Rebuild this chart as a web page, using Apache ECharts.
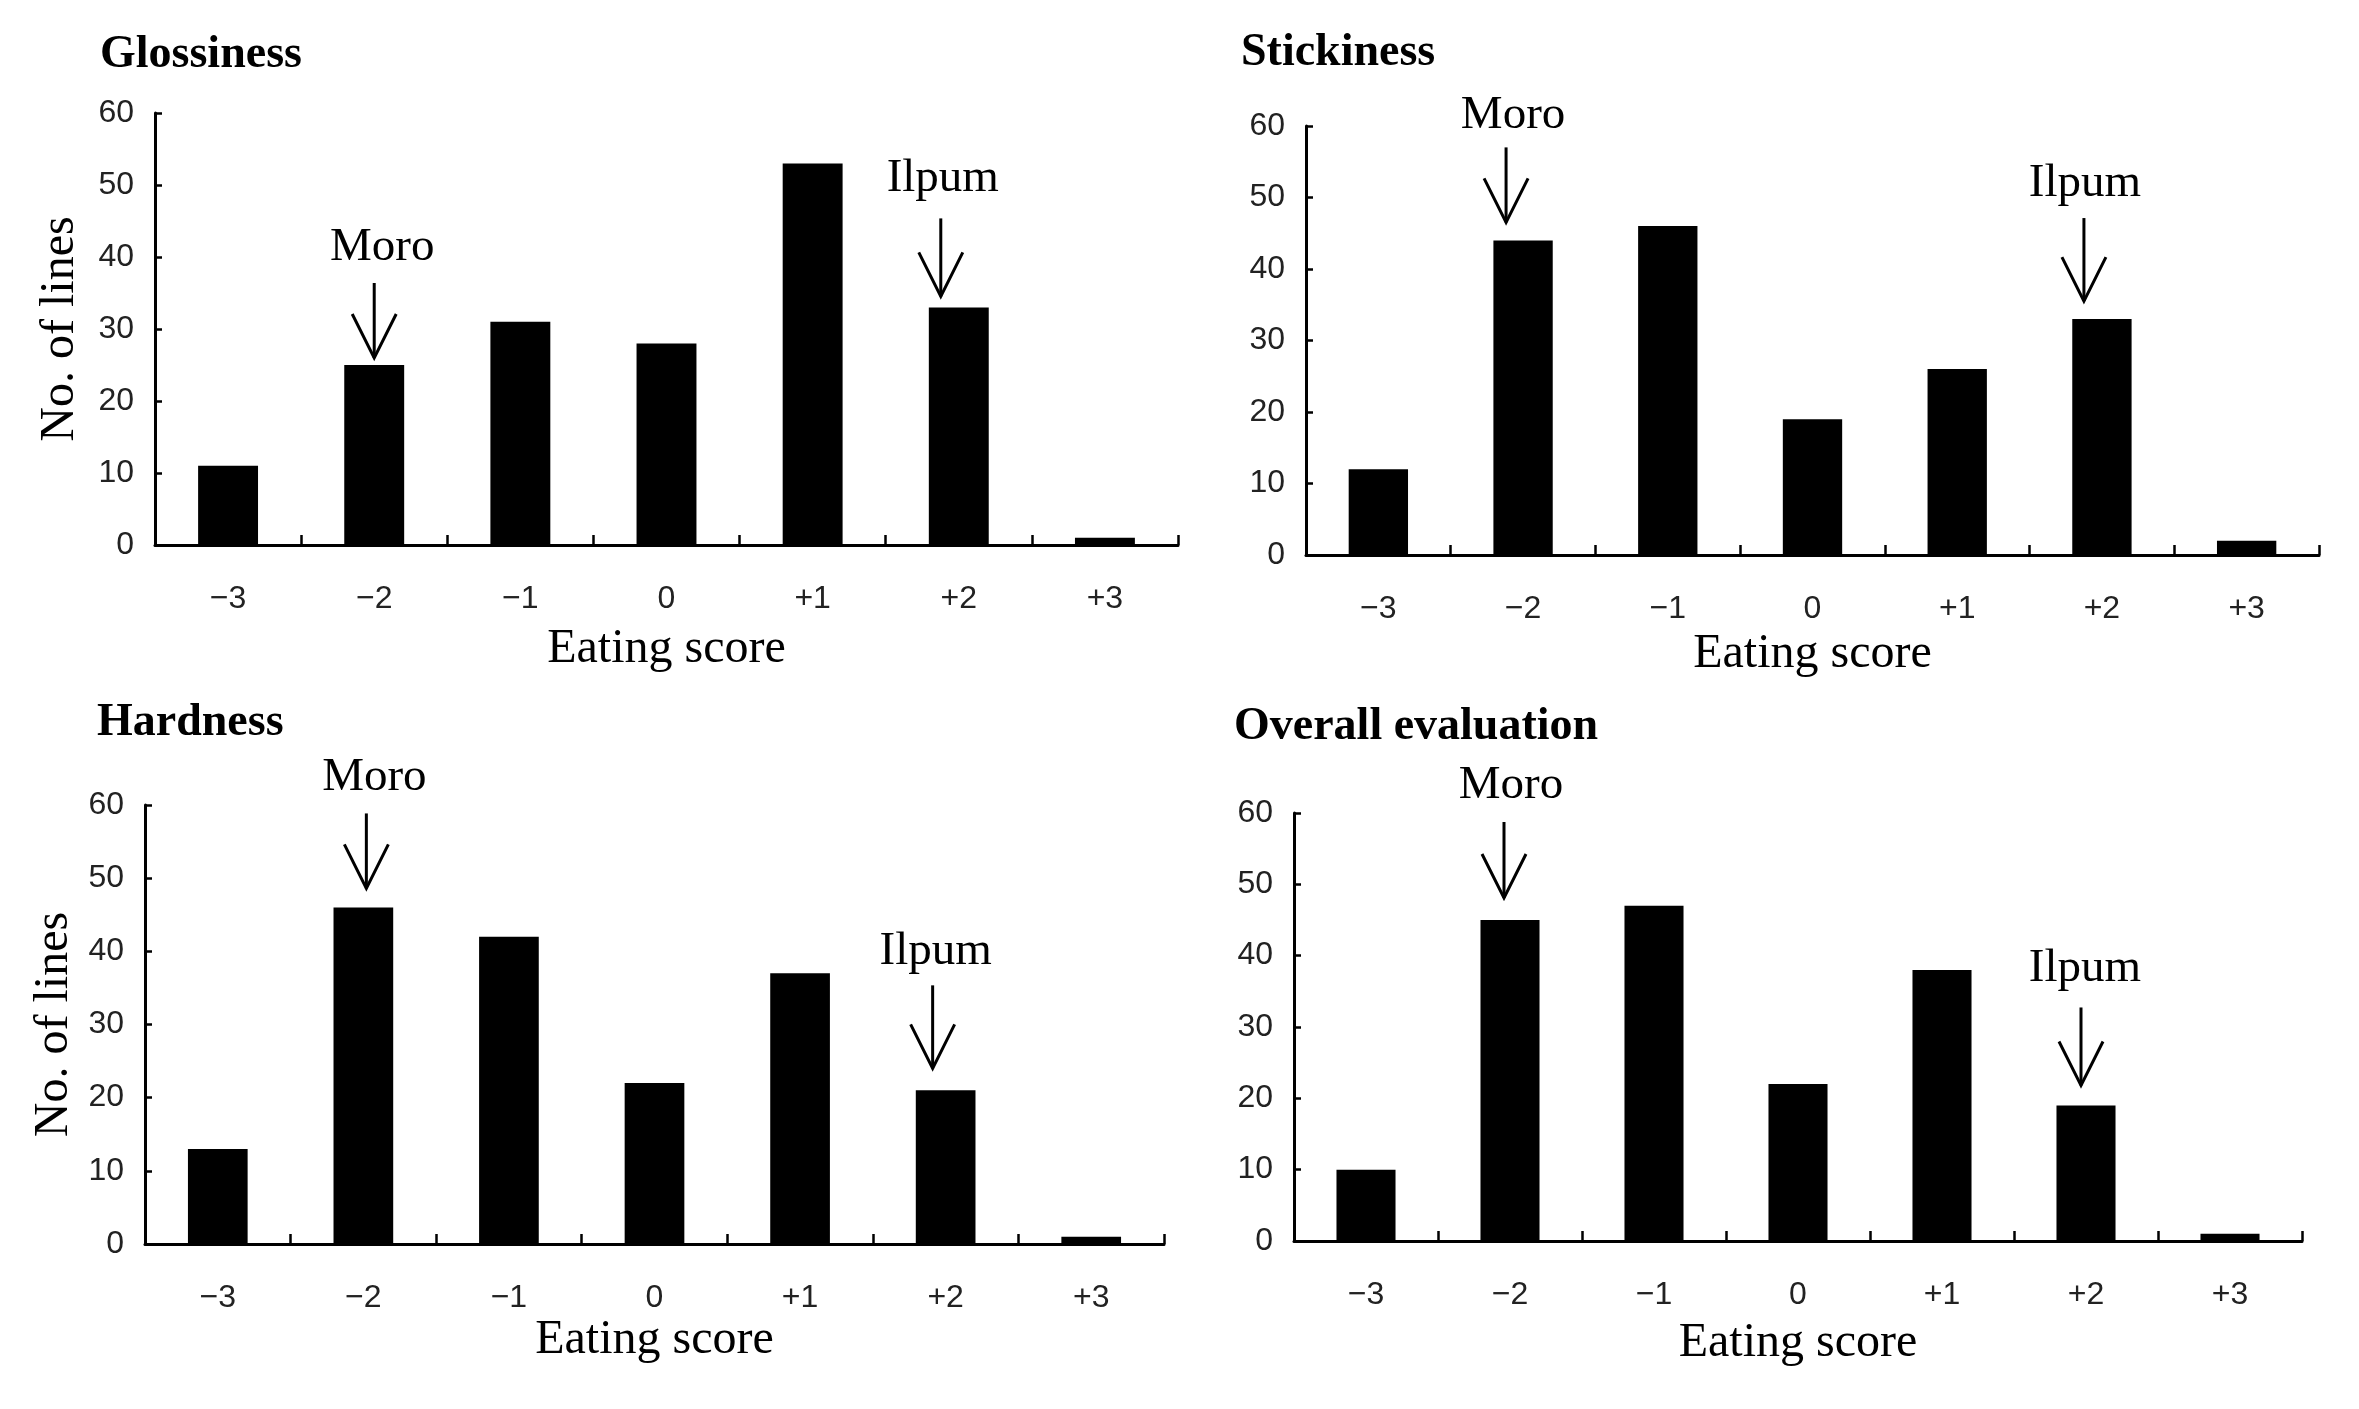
<!DOCTYPE html>
<html>
<head>
<meta charset="utf-8">
<title>Eating score distributions</title>
<script src="https://cdn.jsdelivr.net/npm/echarts/dist/echarts.min.js"></script>
<style>
  html, body { margin: 0; padding: 0; background: #fff; }
  #chart { width: 2359px; height: 1409px; }
</style>
</head>
<body>
<div id="chart"></div>
<script>
// eating score classes on the x axis
var scores = ['\u22123', '\u22122', '\u22121', '0', '+1', '+2', '+3'];

// number of lines per score
var glossiness = [11, 25, 31, 28, 53, 33, 1];
var stickiness = [12, 44, 46, 19, 26, 33, 2];
var hardness = [13, 46, 42, 22, 37, 21, 1];
var overall = [10, 45, 47, 22, 38, 19, 1];

// y axis ticks
var yMin = 0, yMax = 60, yStep = 10;

// check cultivars and the score they sit on
var cultivars = ['Moro', 'Ilpum'];
var cultivarScores = ['\u22122', '+2'];

var serif = '"Liberation Serif", "Times New Roman", serif';
var sans = '"Liberation Sans", Arial, sans-serif';

// layout of the four panels (pixels)
var panels = [
  {
    title: 'Glossiness', data: glossiness, yName: 'No. of lines',
    grid: { left: 155, top: 113, width: 1023, height: 432 },
    titlePos: [100, 33], nameGap: 80, yNameGap: 71,
    arrows: [
      { dx: 0, gap: 7, len: 75, tdx: 8, tgap: 35 },
      { dx: -18, gap: 11, len: 78, tdx: 2, tgap: 40 }
    ]
  },
  {
    title: 'Stickiness', data: stickiness, yName: '',
    grid: { left: 1306, top: 126, width: 1013, height: 429 },
    titlePos: [1241, 31], nameGap: 75, yNameGap: 70,
    arrows: [
      { dx: -17, gap: 18, len: 75, tdx: 7, tgap: 32 },
      { dx: -18, gap: 18, len: 83, tdx: 1, tgap: 34 }
    ]
  },
  {
    title: 'Hardness', data: hardness, yName: 'No. of lines',
    grid: { left: 145, top: 805, width: 1019, height: 439 },
    titlePos: [97, 701], nameGap: 72, yNameGap: 67,
    arrows: [
      { dx: 3, gap: 19, len: 75, tdx: 8, tgap: 36 },
      { dx: -13, gap: 22, len: 83, tdx: 3, tgap: 34 }
    ]
  },
  {
    title: 'Overall evaluation', data: overall, yName: '',
    grid: { left: 1294, top: 813, width: 1008, height: 428 },
    titlePos: [1234, 705], nameGap: 78, yNameGap: 70,
    arrows: [
      { dx: -6, gap: 22, len: 76, tdx: 7, tgap: 36 },
      { dx: -5, gap: 20, len: 78, tdx: 4, tgap: 39 }
    ]
  }
];

var chart = echarts.init(document.getElementById('chart'), null, { renderer: 'canvas' });

var titles = [], grids = [], xAxes = [], yAxes = [], series = [];

panels.forEach(function (p, i) {
  titles.push({
    text: p.title,
    left: p.titlePos[0],
    top: p.titlePos[1],
    padding: 0,
    textStyle: { fontFamily: serif, fontWeight: 'bold', fontSize: 46, color: '#000', lineHeight: 44 }
  });

  grids.push(p.grid);

  xAxes.push({
    type: 'category',
    gridIndex: i,
    data: scores,
    name: 'Eating score',
    nameLocation: 'middle',
    nameGap: p.nameGap,
    nameTextStyle: { fontFamily: serif, fontSize: 48, color: '#000' },
    axisLine: { show: true, lineStyle: { color: '#000', width: 3 } },
    axisTick: { show: true, inside: true, length: 10, lineStyle: { color: '#000', width: 2.5 } },
    axisLabel: { margin: 38, fontFamily: sans, fontSize: 32, color: '#222' },
    splitLine: { show: false }
  });

  yAxes.push({
    type: 'value',
    gridIndex: i,
    min: yMin,
    max: yMax,
    interval: yStep,
    name: p.yName,
    nameLocation: 'middle',
    nameRotate: 90,
    nameGap: p.yNameGap,
    nameTextStyle: { fontFamily: serif, fontSize: 48, color: '#000' },
    axisLine: { show: true, lineStyle: { color: '#000', width: 3 } },
    axisTick: { show: true, inside: true, length: 7, lineStyle: { color: '#000', width: 2.5 } },
    axisLabel: { margin: 21, fontFamily: sans, fontSize: 32, color: '#222' },
    splitLine: { show: false }
  });

  series.push({
    type: 'bar',
    xAxisIndex: i,
    yAxisIndex: i,
    data: p.data,
    barWidth: '41%',
    itemStyle: { color: '#000' },
    silent: true
  });

  // arrows pointing at the check cultivars
  var marks = cultivars.map(function (name, k) {
    var idx = scores.indexOf(cultivarScores[k]);
    return [idx, p.data[idx]];
  });

  series.push({
    type: 'custom',
    xAxisIndex: i,
    yAxisIndex: i,
    data: marks,
    clip: false,
    silent: true,
    z: 10,
    renderItem: function (params, api) {
      var pt = api.coord([api.value(0), api.value(1)]);
      var s = p.arrows[params.dataIndex];
      var x = pt[0] + s.dx;
      var tip = pt[1] - s.gap;
      var top = tip - s.len;
      return {
        type: 'group',
        children: [
          { type: 'line', shape: { x1: x, y1: top, x2: x, y2: tip },
            style: { stroke: '#000', lineWidth: 3 } },
          { type: 'polyline', shape: { points: [[x - 22, tip - 44], [x, tip], [x + 22, tip - 44]] },
            style: { stroke: '#000', lineWidth: 3, fill: null } },
          { type: 'text', x: x + s.tdx, y: top - s.tgap,
            style: { text: cultivars[params.dataIndex], fontFamily: serif, fontSize: 47,
                     fill: '#000', align: 'center', verticalAlign: 'middle' } }
        ]
      };
    }
  });
});

chart.setOption({
  backgroundColor: '#fff',
  animation: false,
  title: titles,
  grid: grids,
  xAxis: xAxes,
  yAxis: yAxes,
  series: series
});
</script>
</body>
</html>
